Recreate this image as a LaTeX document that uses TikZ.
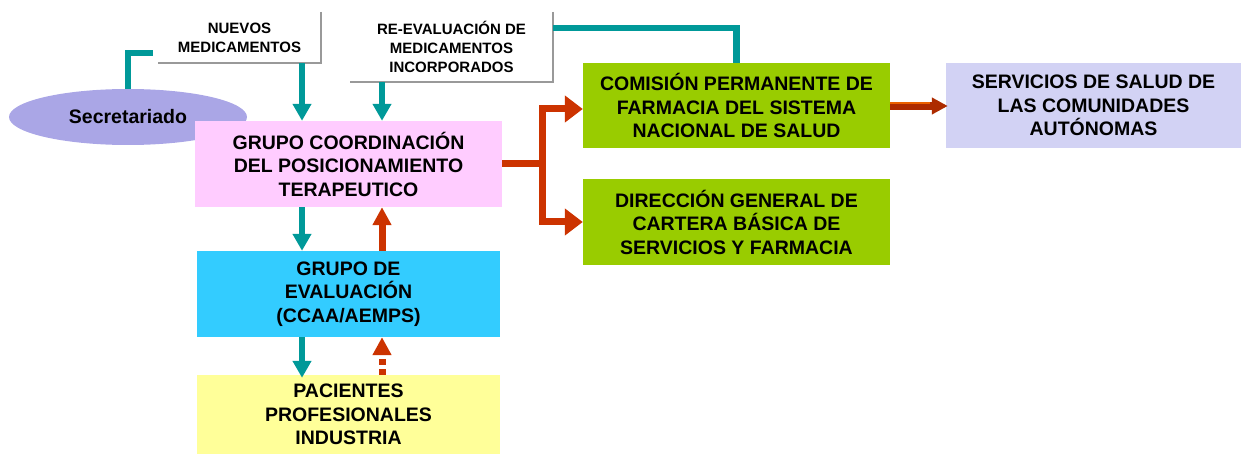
\documentclass[tikz,border=0pt]{standalone}
\usepackage{fontspec}
\setmainfont{Liberation Sans}
\usetikzlibrary{arrows.meta,shapes.geometric,calc}
\definecolor{tealc}{HTML}{009999}
\definecolor{redc}{HTML}{CC3300}
\definecolor{pinkc}{HTML}{FFCCFF}
\definecolor{bluec}{HTML}{33CCFF}
\definecolor{yellowc}{HTML}{FFFF99}
\definecolor{greenc}{HTML}{99CC00}
\definecolor{lavc}{HTML}{D2D2F4}
\definecolor{ellc}{HTML}{AAA6E6}
\definecolor{grayc}{HTML}{999999}
\tikzset{
  bigtext/.style={font=\fontsize{19.5}{23.5}\selectfont\bfseries, align=center, inner sep=0pt},
  smalltext/.style={font=\fontsize{15}{19}\selectfont\bfseries, align=center, inner sep=0pt},
  box/.style={bigtext, rectangle, draw=none},
  tealarrow/.style={draw=tealc, line width=6.5pt, -{Triangle[width=18pt,length=17pt]}},
  tealline/.style={draw=tealc, line width=6.5pt},
  redarrow/.style={draw=redc, line width=7pt, -{Triangle[width=18pt,length=18pt]}},
  redbranch/.style={draw=redc, line width=7pt, -{Triangle[width=26pt,length=18pt]}},
  grayborder/.style={draw=grayc, line width=2pt}
}
\begin{document}
\begin{tikzpicture}[x=1pt,y=-1pt]
\useasboundingbox (0,0) rectangle (1241,454);
\coordinate (colA) at (302,0);
\coordinate (colB) at (382,0);

% label boxes
\node[smalltext, minimum width=163pt, minimum height=51pt] (nuevos) at (239.5,37.5) {NUEVOS\\MEDICAMENTOS};
\draw[grayborder] (nuevos.north east) -- (nuevos.south east) -- (nuevos.south west);
\node[smalltext, minimum width=203pt, minimum height=70pt] (reeval) at (451.5,47) {RE-EVALUACIÓN DE\\MEDICAMENTOS\\INCORPORADOS};
\draw[grayborder] (reeval.north east) -- (reeval.south east) -- (reeval.south west);

% secretariado
\node[ellipse, fill=ellc, minimum width=238pt, minimum height=56pt, inner sep=0pt,
      font=\fontsize{19.5}{23.5}\selectfont\bfseries] (sec) at (128,117) {Secretariado};

% main boxes
\node[box, fill=pinkc, minimum width=307pt, minimum height=86pt] (pink) at (348.5,164)
  {GRUPO COORDINACIÓN\\DEL POSICIONAMIENTO\\TERAPEUTICO};
\node[box, fill=bluec, minimum width=303pt, minimum height=86pt] (blue) at (348.5,294)
  {GRUPO DE\\EVALUACIÓN\\(CCAA/AEMPS)};
\node[box, fill=yellowc, minimum width=303pt, minimum height=79pt] (yellow) at (348.5,414.5)
  {PACIENTES\\PROFESIONALES\\INDUSTRIA};
\node[box, fill=greenc, minimum width=307pt, minimum height=85pt] (com) at (736.5,105.5)
  {COMISIÓN PERMANENTE DE\\FARMACIA DEL SISTEMA\\NACIONAL DE SALUD};
\node[box, fill=greenc, minimum width=307pt, minimum height=86pt] (dir) at (736.5,222)
  {DIRECCIÓN GENERAL DE\\CARTERA BÁSICA DE\\SERVICIOS Y FARMACIA};
\node[box, fill=lavc, minimum width=295pt, minimum height=85pt] (serv) at (1093.5,105.5)
  {SERVICIOS DE SALUD DE\\LAS COMUNIDADES\\AUTÓNOMAS};

% teal connectors
\coordinate (secend) at ($(nuevos.south west)+(-5,-10)$);
\draw[tealline] (sec.north) |- (secend);
\draw[tealline] ($(reeval.north east)+(0,16)$) -| (com.north);
\draw[tealarrow] (nuevos.south -| colA) -- (pink.north -| colA);
\draw[tealarrow] (reeval.south -| colB) -- (pink.north -| colB);
\draw[tealarrow] (pink.south -| colA) -- (blue.north -| colA);
\draw[tealarrow] (blue.south -| colA) -- ($(yellow.north -| colA)+(0,3)$);

% red connectors
\draw[redarrow] (blue.north -| colB) -- (pink.south -| colB);
\draw[redarrow, dash pattern=on 6pt off 4pt] (yellow.north -| colB) -- (blue.south -| colB);
\coordinate (branch) at (542,164);
\draw[draw=redc, line width=7pt] (pink.east) -- (branch);
\draw[redbranch] (branch) |- ($(com.west)+(0,3.5)$);
\draw[redbranch] (branch) |- (dir.west);

% comision -> servicios
\draw[draw=redc!85!black, line width=8pt, -{Triangle[width=16pt,length=16pt]}] ($(com.east)+(0,0.5)$) -- ($(serv.west)+(2,0.5)$);
\draw[draw=orange!60!redc, line width=2pt] ($(com.east)+(0,-2.5)$) -- ($(serv.west)+(-16,-2.5)$);
\end{tikzpicture}
\end{document}
